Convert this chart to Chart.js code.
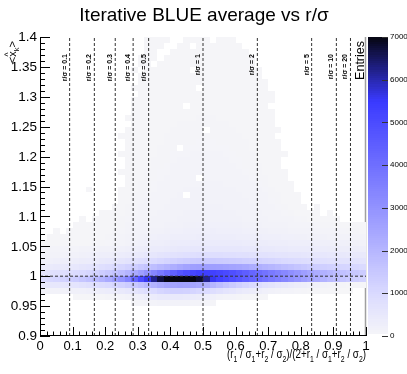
<!DOCTYPE html>
<html><head><meta charset="utf-8">
<script src="https://cdn.jsdelivr.net/npm/chart.js@4/dist/chart.umd.min.js"></script>
<style>html,body{margin:0;padding:0;background:#fff;}canvas{display:block}</style>
</head><body>
<canvas id="c" width="407" height="374"></canvas>
<script>
// ---------------- data ----------------
const xBinWidth = 0.02;
const yBinWidth = 0.01;
const xBinLow = [0,0.02,0.04,0.06,0.08,0.1,0.12,0.14,0.16,0.18,0.2,0.22,0.24,0.26,0.28,0.3,0.32,0.34,0.36,0.38,
  0.4,0.42,0.44,0.46,0.48,0.5,0.52,0.54,0.56,0.58,0.6,0.62,0.64,0.66,0.68,0.7,0.72,0.74,0.76,0.78,
  0.8,0.82,0.84,0.86,0.88,0.9,0.92,0.94,0.96,0.98];
const yBinLow = [0.95,0.96,0.97,0.98,0.99,1.00,1.01,1.02,1.03,1.04,1.05,1.06,1.07,1.08,1.09,
  1.10,1.11,1.12,1.13,1.14,1.15,1.16,1.17,1.18,1.19,1.20,1.21,1.22,1.23,1.24,1.25,1.26,1.27,1.28,1.29,
  1.30,1.31,1.32,1.33,1.34,1.35,1.36,1.37,1.38,1.39];
// entries per cell, one row per y bin (missing trailing values = 0)
const counts = [
 [0,0,0,0,0,0,0,0,0,0,0,0,0,0,60,80,100,120,150,150,150,150,140,120,100,80,60],
 [0,0,0,0,0,30,30,40,40,50,60,80,100,140,200,260,330,400,450,480,480,470,440,400,340,280,220,160,120,90,70,50,40,30,20],
 [150,150,160,180,200,210,230,260,290,320,360,410,470,540,640,750,860,980,1100,1200,1250,1250,1220,1150,1050,950,850,750,650,560,480,400,340,280,230,190,150,120,100,80,60,50,40,30,20,20,10,10],
 [500,520,550,580,620,660,710,770,840,920,1010,1110,1220,1360,1520,1700,1900,2100,2300,2450,2550,2600,2580,2500,2380,2200,2000,1800,1600,1420,1250,1100,960,840,730,630,540,460,390,330,270,220,180,140,110,90,70,50,40,30],
 [1000,1050,1100,1200,1300,1400,1550,1700,1900,2100,2350,2650,3000,3400,4200,5000,5600,6200,6700,7000,7000,7000,7000,7000,6800,6200,5600,5300,5100,4900,4700,4500,4300,4100,3900,3700,3500,3300,3100,2900,2700,2500,2300,2100,1900,1750,1600,1450,1300,1200],
 [700,740,780,830,880,950,1030,1120,1230,1360,1500,1660,1850,2080,2350,2650,3000,3350,3700,4050,4400,4700,4950,5150,5300,5350,5300,5200,5050,4900,4700,4500,4300,4100,3900,3700,3500,3300,3100,2900,2700,2500,2300,2150,2000,1850,1700,1600,1500,1400],
 [400,420,450,480,510,550,600,660,730,810,900,1000,1100,1220,1350,1500,1650,1800,1950,2100,2250,2400,2550,2650,2700,2700,2700,2650,2600,2550,2500,2400,2300,2200,2100,2000,1900,1800,1700,1600,1500,1400,1350,1300,1250,1200,1150,1100,1050,1000],
 [220,230,250,270,290,310,340,370,410,450,500,550,610,670,740,810,890,970,1050,1130,1200,1270,1330,1380,1420,1440,1440,1420,1400,1370,1330,1290,1250,1200,1150,1100,1050,1000,960,920,880,850,820,790,760,740,720,700,680,660],
 [130,140,150,160,170,180,200,220,240,270,300,330,360,400,440,480,530,580,630,680,720,760,790,820,840,850,850,840,830,810,790,770,750,720,700,680,650,630,610,590,570,550,540,520,510,500,490,480,470,460],
 [90,90,100,100,110,120,130,140,150,170,190,210,230,260,290,320,350,380,410,440,470,490,510,530,540,550,550,550,540,530,520,510,500,490,470,460,440,430,410,400,390,380,370,360,350,340,330,320,310,300],
 [30,30,30,40,40,40,50,50,60,70,80,100,120,150,180,220,250,280,300,320,340,360,370,390,400,410,410,410,400,390,380,370,360,350,340,330,320,310,300,290,280,270,260,250,240,230,220,210,200,190],
 [0,20,20,20,30,30,30,40,40,50,60,80,100,130,160,180,200,220,240,250,270,280,290,300,310,320,320,320,310,310,300,290,280,270,260,250,240,230,220,210,200,190,180,170,160,150,140,130,120,110],
 [0,0,20,0,20,20,30,30,30,40,50,60,80,110,140,150,160,180,190,210,220,230,240,250,260,260,270,260,260,250,240,230,220,210,200,190,180,170,160,150,140,130,120,110,100,90,80,70,60,50],
 [0,0,0,0,0,20,20,20,30,30,40,50,70,100,110,130,140,150,160,170,180,190,200,210,220,220,220,220,220,210,200,190,180,170,160,150,140,130,120,110,100,90,80,70,60,50,40,30,30,20],
 [0,0,0,0,0,0,20,0,20,20,30,40,60,80,90,110,120,130,140,150,160,170,180,180,190,190,190,190,190,180,170,160,150,140,130,120,110,100,90,80,60,50,40,30,20,20],
 [0,0,0,0,0,0,0,0,0,20,20,30,50,70,80,100,110,120,130,140,150,160,170,170,180,180,180,180,180,170,160,150,140,130,120,100,90,80,60,50,40,30,20,0,20],
 [0,0,0,0,0,0,0,0,0,0,0,20,40,60,70,90,100,110,120,130,140,150,150,160,160,170,170,170,160,160,150,140,130,120,110,90,80,60,40,30,20,0,20],
 [0,0,0,0,0,0,0,0,0,0,0,0,30,50,60,80,90,100,110,120,130,140,140,150,150,160,160,160,150,150,140,130,120,110,100,80,70,50,30,20],
 [0,0,0,0,0,0,0,0,0,0,0,0,20,40,60,70,80,90,100,110,120,130,0,140,140,150,150,150,140,140,130,120,110,100,90,70,60,40,20,20],
 [0,0,0,0,0,0,0,20,0,0,0,0,20,40,50,60,70,80,90,100,110,120,130,130,130,140,140,140,130,130,120,110,100,90,80,60,50,30,20],
 [0,0,0,0,0,0,0,0,0,0,0,0,0,30,50,60,70,80,90,100,100,110,120,120,120,130,130,130,120,120,110,100,90,80,70,50,40,30,20],
 [0,0,0,0,0,0,0,0,0,0,0,0,0,30,40,50,60,70,80,90,100,100,110,110,0,120,120,120,110,110,100,90,80,70,60,50,30,20],
 [0,0,0,0,0,0,0,0,0,0,0,0,20,20,40,50,60,70,80,80,90,100,100,110,110,110,110,110,100,100,90,80,70,60,50,40,30,20],
 [0,0,0,0,0,0,0,0,0,0,0,0,0,20,40,40,50,60,70,80,90,90,100,100,100,100,100,100,100,90,80,70,60,60,50,40,20],
 [0,0,0,0,0,0,0,0,0,0,0,0,0,20,30,40,50,60,70,70,80,90,90,90,90,90,90,90,90,80,80,70,60,50,40,30,20],
 [0,0,0,0,0,0,0,0,0,0,0,0,20,20,30,40,50,50,60,70,80,80,80,90,90,90,90,90,80,80,70,70,60,50,40,30,20,20],
 [0,0,0,0,0,0,0,0,0,0,0,0,0,20,30,40,40,50,60,60,70,0,80,80,80,80,80,80,80,70,70,60,50,50,40,30,20],
 [0,0,0,0,0,0,0,0,0,0,0,0,0,20,30,30,40,50,50,60,70,70,70,70,80,80,80,70,70,70,60,60,50,40,30,20,20],
 [0,0,0,0,0,0,0,0,0,0,0,0,20,20,20,30,40,40,50,60,60,60,70,70,70,70,70,70,70,60,60,50,50,40,30,20],
 [0,0,0,0,0,0,0,0,0,0,0,0,0,20,20,30,30,40,50,50,60,60,60,60,60,0,70,60,60,60,50,50,40,40,30,20,20],
 [0,0,0,0,0,0,0,0,0,0,0,0,0,0,20,30,30,40,40,50,50,60,60,60,60,60,60,60,60,50,50,50,40,30,30,20],
 [0,0,0,0,0,0,0,0,0,0,0,0,0,20,20,20,30,30,40,40,50,50,50,50,60,60,60,50,50,50,50,40,40,30,20,20],
 [0,0,0,0,0,0,0,0,0,0,0,0,0,0,20,20,30,30,40,40,40,50,50,50,50,50,50,50,50,50,40,40,30,30,20,20],
 [0,0,0,0,0,0,0,0,0,0,0,0,0,0,20,20,20,30,30,40,40,40,0,50,50,50,50,50,40,40,40,30,30,30,20],
 [0,0,0,0,0,0,0,0,0,0,0,0,0,0,20,20,20,30,30,30,40,40,40,40,40,40,40,40,40,40,40,30,30,20,20,20],
 [0,0,0,0,0,0,0,0,0,0,0,0,0,0,0,20,20,30,30,30,30,40,40,40,40,40,40,40,40,40,30,30,30,20,20,20],
 [0,0,0,0,0,0,0,0,0,0,0,0,0,0,20,20,20,20,30,30,30,30,40,40,0,40,40,40,30,30,30,30,20,20,20],
 [0,0,0,0,0,0,0,0,0,0,0,0,0,0,0,20,20,20,30,30,30,30,30,30,30,30,30,30,30,30,30,20,20,20,20],
 [0,0,0,0,0,0,0,0,0,0,0,0,0,0,0,20,20,20,20,30,30,30,30,30,30,30,30,30,30,30,20,20,20,20],
 [0,0,0,0,0,0,0,0,0,0,0,0,0,0,20,0,20,20,20,20,30,30,30,0,30,30,30,30,30,20,20,20,20,20],
 [0,0,0,0,0,0,0,0,0,0,0,0,0,0,0,20,20,0,20,20,20,30,30,30,30,30,30,20,20,20,20,20,20],
 [0,0,0,0,0,0,0,0,0,0,0,0,0,0,0,20,20,20,0,20,20,20,20,20,30,30,20,20,20,20,20,20,20],
 [0,0,0,0,0,0,0,0,0,0,0,0,0,0,0,0,20,20,0,0,20,20,20,20,20,20,20,20,20,20,20,20],
 [0,0,0,0,0,0,0,0,0,0,0,0,0,0,0,0,20,20,20,0,0,20,20,0,20,20,20,20,20,20,20],
 [0,0,0,0,0,0,0,0,0,0,0,0,0,0,0,0,20,20,20,20,0,0,20,20,20,20,0,20,20,20]
];
const rSigmaLabels = ['0.1','0.2','0.3','0.4','0.5','1','2','5','10','20'];
const rSigmaPos = [0.0909,0.1667,0.2308,0.2857,0.3333,0.5,0.6667,0.8333,0.9091,0.9524];
const refLineY = 1.0;
const xTickLabels = [0,0.1,0.2,0.3,0.4,0.5,0.6,0.7,0.8,0.9,1];
const yTickLabels = [0.9,0.95,1,1.05,1.1,1.15,1.2,1.25,1.3,1.35,1.4];
const zTickLabels = [0,1000,2000,3000,4000,5000,6000,7000];
const zMax = 7000;
const titleText = 'Iterative BLUE average vs r/\u03c3';
const zTitle = 'Entries';

// ---------------- colours ----------------
const zStops = [[0,246,246,248],[1000,218,218,255],[5500,58,58,255],[7000,6,6,18]];
function zColor(v){
  if (v >= zStops[zStops.length-1][0]) { const s=zStops[zStops.length-1]; return `rgb(${s[1]},${s[2]},${s[3]})`; }
  for (let k=0;k<zStops.length-1;k++){
    const a=zStops[k], b=zStops[k+1];
    if (v>=a[0] && v<=b[0]){
      const f=(v-a[0])/(b[0]-a[0]);
      const c=[1,2,3].map(n=>Math.round(a[n]+(b[n]-a[n])*f));
      return `rgb(${c[0]},${c[1]},${c[2]})`;
    }
  }
  return '#fff';
}

const FONT = '"Liberation Sans", Arial, Helvetica, sans-serif';

// ---------------- datasets (reference lines) ----------------
const datasets = rSigmaPos.map(p => ({
  data: [{x:p,y:0.9},{x:p,y:1.4}],
  showLine: true, pointRadius: 0, borderColor: '#333', borderWidth: 1, borderDash: [3,2]
}));
datasets.push({
  data: [{x:0,y:refLineY},{x:1,y:refLineY}],
  showLine: true, pointRadius: 0, borderColor: '#333', borderWidth: 1, borderDash: [3,2]
});

function drawSegs(ctx, segs, size, xRight, yBase, fit){
  let w=0;
  const ms = segs.map(s=>{ ctx.font = (s[1]?size*0.7:size)+'px '+FONT; const m=ctx.measureText(s[0]).width; w+=m; return m; });
  ctx.save();
  ctx.translate(xRight, yBase);
  const sc = fit ? fit/w : 1;
  ctx.scale(sc,1);
  let x = -w;
  segs.forEach((s,i)=>{
    ctx.font = (s[1]?size*0.7:size)+'px '+FONT;
    ctx.textAlign='left'; ctx.textBaseline='alphabetic';
    ctx.fillText(s[0], x, s[1]? size*0.3 : 0);
    x += ms[i];
  });
  ctx.restore();
}

const rootPlugin = {
  id: 'root2d',
  beforeDatasetsDraw(chart){
    const {ctx, chartArea:a, scales:{x,y}} = chart;
    ctx.save();
    ctx.strokeStyle='#a0a0a0'; ctx.lineWidth=1.5;
    ctx.beginPath(); ctx.moveTo(a.right-0.5,a.top); ctx.lineTo(a.right-0.5,a.bottom); ctx.stroke();
    for (let j=0;j<yBinLow.length;j++){
      const row=counts[j], y0=yBinLow[j];
      const yt=Math.round(y.getPixelForValue(y0+yBinWidth)), yb=Math.round(y.getPixelForValue(y0));
      for (let i=0;i<row.length;i++){
        const v=row[i]; if(!v) continue;
        const xl=Math.round(x.getPixelForValue(xBinLow[i])), xr=Math.round(x.getPixelForValue(xBinLow[i]+xBinWidth));
        ctx.fillStyle=zColor(v);
        ctx.fillRect(xl,yt,xr-xl,yb-yt);
      }
    }
    ctx.restore();
  },
  afterDraw(chart){
    const {ctx, chartArea:a, scales:{x,y}} = chart;
    ctx.save();
    ctx.strokeStyle='#000'; ctx.fillStyle='#000'; ctx.lineWidth=1;
    ctx.beginPath();
    ctx.moveTo(a.left+0.5,a.top); ctx.lineTo(a.left+0.5,a.bottom);
    ctx.moveTo(a.left,a.bottom-0.5); ctx.lineTo(a.right,a.bottom-0.5);
    ctx.stroke();
    ctx.beginPath();
    for (let k=0;k<=50;k++){
      const py=Math.round(y.getPixelForValue(0.9+k*0.01))+0.5;
      const L = (k%5===0)?10:5;
      ctx.moveTo(a.left,py); ctx.lineTo(a.left+L,py);
    }
    for (let k=0;k<=50;k++){
      const px=Math.round(x.getPixelForValue(k*0.02))+0.5;
      const L=(k%5===0)?9:4.5;
      ctx.moveTo(px,a.bottom); ctx.lineTo(px,a.bottom-L);
    }
    ctx.stroke();
    ctx.font='13.5px '+FONT;
    ctx.textAlign='right'; ctx.textBaseline='middle';
    yTickLabels.forEach(v=>ctx.fillText(String(v), 37, y.getPixelForValue(v)+0.5));
    ctx.font='13px '+FONT;
    ctx.textAlign='center'; ctx.textBaseline='alphabetic';
    xTickLabels.forEach(v=>ctx.fillText(String(v), x.getPixelForValue(v), 349.5));
    ctx.font='19px '+FONT; ctx.textAlign='center';
    ctx.fillText(titleText, 204, 21);
    const s='\u03c3';
    drawSegs(ctx, [['(r',0],['1',1],[' / '+s,0],['1',1],['+r',0],['2',1],[' / '+s,0],['2',1],[')/(2+r',0],['1',1],[' / '+s,0],['1',1],['+r',0],['2',1],[' / '+s,0],['2',1],[')',0]], 12.5, 366, 358, 139);
    ctx.save();
    ctx.translate(16, 41); ctx.rotate(-Math.PI/2);
    const fs=11;
    ctx.font=fs+'px '+FONT;
    const wl=ctx.measureText('<').width, wx=ctx.measureText('x').width;
    ctx.font=(fs*0.7)+'px '+FONT; const wk=ctx.measureText('k').width;
    const tot=wl+wx+wk+wl;
    let cx=-tot;
    ctx.textAlign='left'; ctx.textBaseline='alphabetic';
    ctx.font=fs+'px '+FONT; ctx.fillText('<',cx,0); cx+=wl;
    ctx.fillText('x',cx,0);
    ctx.font=(fs*0.8)+'px '+FONT; ctx.fillText('^',cx+wx/2-2.5,-fs*0.5);
    cx+=wx;
    ctx.font=(fs*0.7)+'px '+FONT; ctx.fillText('k',cx,fs*0.3); cx+=wk;
    ctx.font=fs+'px '+FONT; ctx.fillText('>',cx,0);
    ctx.restore();
    ctx.font='bold 7px '+FONT;
    rSigmaPos.forEach((p,i)=>{
      ctx.save();
      ctx.translate(x.getPixelForValue(p)-3, 54);
      ctx.rotate(-Math.PI/2);
      ctx.textAlign='right'; ctx.textBaseline='alphabetic';
      ctx.fillText('r/'+s+' = '+rSigmaLabels[i], 0, 0);
      ctx.restore();
    });
    ctx.save();
    ctx.translate(364, 41); ctx.rotate(-Math.PI/2);
    ctx.font='12.5px '+FONT; ctx.textAlign='right'; ctx.textBaseline='alphabetic';
    ctx.fillText(zTitle,0,0);
    ctx.restore();
    const pl=368, pr=388;
    const zy = v => a.bottom - (a.bottom-a.top)*v/zMax;
    for (let v=0; v<zMax; v+=50){
      const t=Math.floor(zy(v+50)), b=Math.ceil(zy(v));
      ctx.fillStyle = v===0 ? '#ffffff' : zColor(v+25);
      ctx.fillRect(pl,t,pr-pl,b-t);
    }
    ctx.fillStyle='#000';
    ctx.strokeStyle='#333'; ctx.lineWidth=1;
    ctx.beginPath();
    zTickLabels.forEach(v=>{ const py=Math.round(zy(v))+0.5; ctx.moveTo(pr-6,py); ctx.lineTo(pr,py); });
    ctx.stroke();
    ctx.font='8px '+FONT; ctx.textAlign='left'; ctx.textBaseline='middle';
    zTickLabels.forEach(v=>ctx.fillText(String(v), 390, zy(v)));
    ctx.restore();
  }
};

new Chart(document.getElementById('c'), {
  type: 'scatter',
  data: { datasets },
  options: {
    responsive: false, animation: false, devicePixelRatio: 1,
    layout: { padding: { left: 40, right: 41, top: 37, bottom: 38 } },
    plugins: { legend: { display: false }, tooltip: { enabled: false }, title: { display: false } },
    scales: {
      x: { type: 'linear', min: 0, max: 1, display: false },
      y: { type: 'linear', min: 0.9, max: 1.4, display: false }
    }
  },
  plugins: [rootPlugin]
});
</script>
</body></html>
